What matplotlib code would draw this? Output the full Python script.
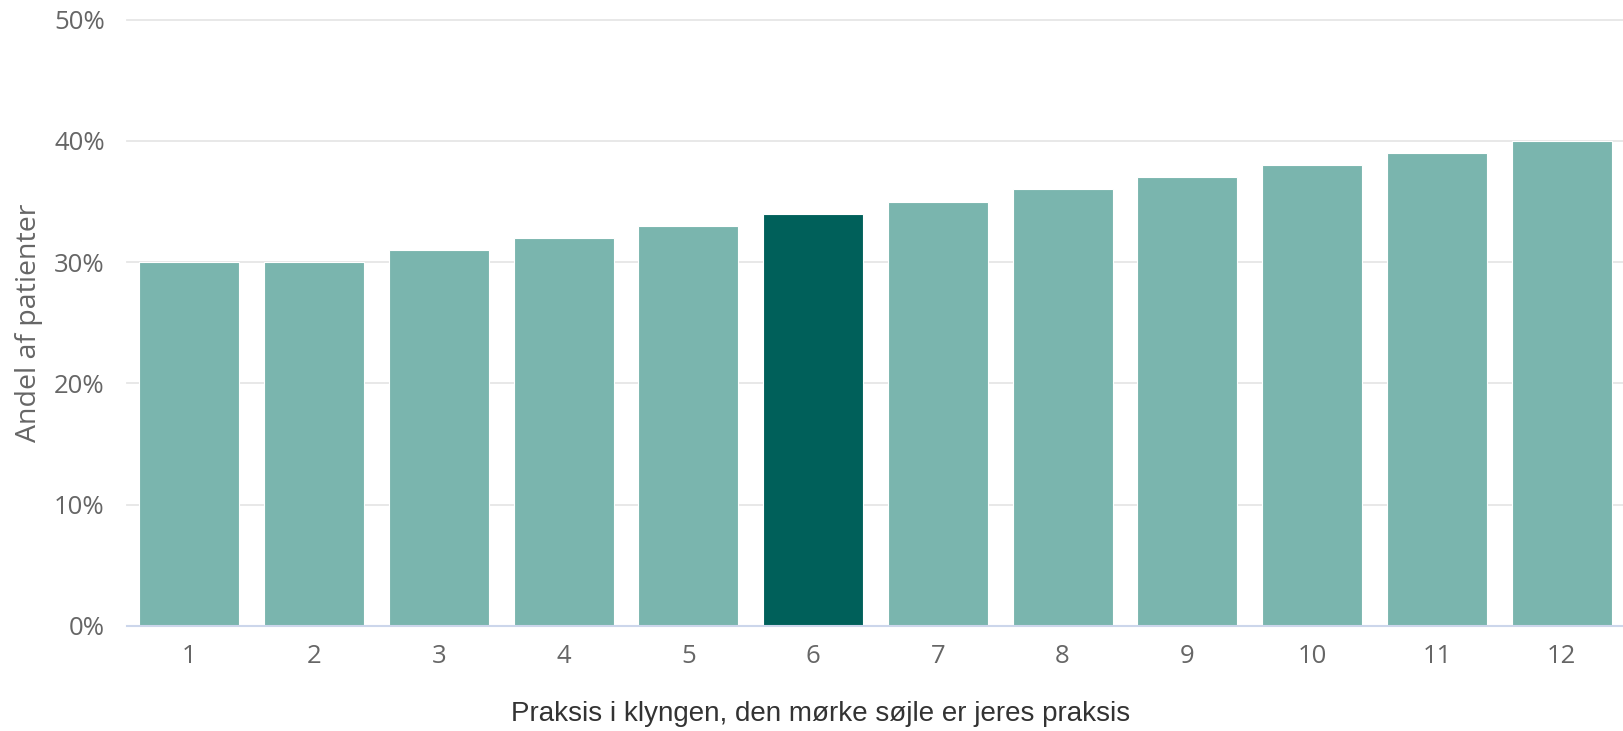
import numpy as np
import matplotlib.pyplot as plt
from matplotlib.ticker import FuncFormatter

# data
praksis = ['1', '2', '3', '4', '5', '6', '7', '8', '9', '10', '11', '12']
andel = [30, 30, 31, 32, 33, 34, 35, 36, 37, 38, 39, 40]
egen_praksis = '6'

light = '#7ab5ae'
dark = '#00605a'

plt.rcParams['font.family'] = ['Open Sans', 'DejaVu Sans']

fig = plt.figure(figsize=(16.24, 7.31), dpi=100)
ax = fig.add_axes([127 / 1624, 1 - 625.7 / 731, 1 - 127 / 1624, (625.7 - 19.7) / 731])

x = np.arange(1, len(praksis) + 1)
colors = [dark if p == egen_praksis else light for p in praksis]
ax.bar(x, andel, width=0.8, color=colors, edgecolor='white', linewidth=0.8, zorder=2)

ax.set_xlim(0.5, len(praksis) + 0.5)
ax.set_ylim(0, 50)
ax.set_yticks([0, 10, 20, 30, 40, 50])
ax.yaxis.set_major_formatter(FuncFormatter(lambda v, p: '%d%%' % v))
ax.set_xticks(x)
ax.set_xticklabels(praksis)

ax.grid(axis='y', color='#e6e6e6', linewidth=1.3, zorder=0)
for gl in ax.get_ygridlines():
    gl.set_clip_on(False)
for s in ['top', 'right', 'left']:
    ax.spines[s].set_visible(False)
ax.spines['bottom'].set_color('#ccd6eb')
ax.spines['bottom'].set_linewidth(1.5)
ax.spines['bottom'].set_zorder(3)

ax.tick_params(axis='y', length=0, pad=16, labelsize=18.5, labelcolor='#666666')
ax.tick_params(axis='x', length=0, pad=13, labelsize=18.5, labelcolor='#666666')

fig.text(29 / 1624, 1 - 322.7 / 731, 'Andel af patienter', rotation=90,
         ha='center', va='center', fontsize=20.5, color='#666666')
fig.text(821 / 1624, 1 - 714 / 731, 'Praksis i klyngen, den mørke søjle er jeres praksis',
         ha='center', va='center', fontsize=20, color='#333333',
         family=['Liberation Sans', 'DejaVu Sans'])

fig.savefig('out.png', dpi=100)
